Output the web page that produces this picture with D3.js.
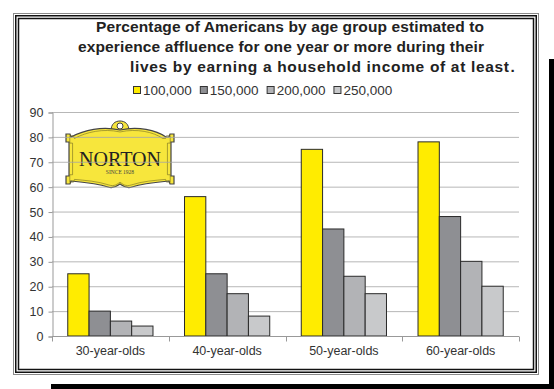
<!DOCTYPE html>
<html>
<head>
<meta charset="utf-8">
<script src="https://cdn.jsdelivr.net/npm/d3@7"></script>
<style>
  html, body { margin: 0; padding: 0; background: #fff; }
  svg { display: block; font-family: "Liberation Sans", Arial, sans-serif; }
</style>
</head>
<body>
<svg id="chart" width="554" height="389"></svg>
<script>
// Age groups along the x axis
const categories = ["30-year-olds", "40-year-olds", "50-year-olds", "60-year-olds"];
// Income thresholds (legend series)
const series = ["100,000", "150,000", "200,000", "250,000"];
// Percentage per age group, one array per threshold
const v100k = [25, 56, 75, 78];
const v150k = [10, 25, 43, 48];
const v200k = [6, 17, 24, 30];
const v250k = [4, 8, 17, 20];
// Y axis ticks
const yTicks = [0, 10, 20, 30, 40, 50, 60, 70, 80, 90];
const titleLines = [
  "Percentage of Americans by age group estimated to",
  "experience affluence for one year or more during their",
  "lives by earning a household income of at least"
];

const colors = ["#FFEC00", "#8E8F93", "#B2B3B6", "#C8C9CB"];
const valuesBySeries = [v100k, v150k, v200k, v250k];

const svg = d3.select("#chart");
const W = 554, H = 389;
const textCol = "#333";
const sans = "'Liberation Sans', Arial, sans-serif";
const serif = "'Liberation Serif', 'DejaVu Serif', serif";

svg.append("rect").attr("width", W).attr("height", H).attr("fill", "#fff");

// drop shadow bars
svg.append("rect").attr("x", 549).attr("y", 59).attr("width", 5).attr("height", 330).attr("fill", "#000");
svg.append("rect").attr("x", 51).attr("y", 384).attr("width", 503).attr("height", 5).attr("fill", "#000");

// triple frame
svg.append("rect").attr("x", 13.5).attr("y", 13.5).attr("width", 525).attr("height", 361)
  .attr("fill", "none").attr("stroke", "#8a8a8a").attr("stroke-width", 1);
svg.append("rect").attr("x", 15.75).attr("y", 15.75).attr("width", 520.5).attr("height", 356.5)
  .attr("fill", "none").attr("stroke", "#111").attr("stroke-width", 1.5);
svg.append("rect").attr("x", 18.5).attr("y", 18.5).attr("width", 515).attr("height", 351)
  .attr("fill", "none").attr("stroke", "#111").attr("stroke-width", 1.5);

// Title, each line stretched to its column width
const title = svg.append("g").attr("font-weight", "bold").attr("font-size", 15.5).attr("fill", "#222")
  .style("font-family", sans);
const titleX0 = [96, 78, 130];
const titleX1 = [484, 484, 509];
const titleY = [32, 52, 72];
titleLines.forEach((t, i) => {
  title.append("text").attr("x", titleX0[i]).attr("y", titleY[i])
    .attr("textLength", titleX1[i] - titleX0[i]).attr("lengthAdjust", "spacing").text(t);
});
title.append("text").attr("x", 510.5).attr("y", titleY[2]).text(".");

// Scales
const x0 = d3.scaleBand().domain(categories).range([52, 519]).padding(0);
const x1 = d3.scaleBand().domain(series).range([0, x0.bandwidth()]).paddingInner(0).paddingOuter(0.74);
const y = d3.scaleLinear().domain([0, 90]).range([336, 112]);

// Logo (drawn under the grid)
const cx = 120;
const logoPath = `M${cx},130
C${cx+18},126 ${cx+36},130 ${cx+46},137
L${cx+49},137 L${cx+50},134 L${cx+54},134 L${cx+54},142 L${cx+51},142
L${cx+51},176
L${cx+54},176 L${cx+54},184 L${cx+50},184 L${cx+49},181
C${cx+38},182 ${cx+24},183 ${cx+12},187
C${cx+6},189 ${cx+3},186 ${cx},184
C${cx-3},186 ${cx-6},189 ${cx-12},187
C${cx-24},183 ${cx-38},182 ${cx-49},181
L${cx-50},184 L${cx-54},184 L${cx-54},176 L${cx-51},176
L${cx-51},142
L${cx-54},142 L${cx-54},134 L${cx-50},134 L${cx-49},137
C${cx-36},130 ${cx-18},126 ${cx},130 Z`;
const logo = svg.append("g");
logo.append("path")
  .attr("d", `M${cx-9},131 C${cx-9},124 ${cx-5},121 ${cx},121 C${cx+5},121 ${cx+9},124 ${cx+9},131 Z`)
  .attr("fill", "#F7E63C").attr("stroke", "#444").attr("stroke-width", 1);
logo.append("circle").attr("cx", cx).attr("cy", 126).attr("r", 3)
  .attr("fill", "#fff").attr("stroke", "#444").attr("stroke-width", 1);
logo.append("path").attr("d", logoPath)
  .attr("fill", "#F7E63C").attr("stroke", "#444").attr("stroke-width", 1.2);
logo.append("path").attr("d", logoPath)
  .attr("transform", `translate(${cx},158) scale(0.93) translate(${-cx},-158)`)
  .attr("fill", "none").attr("stroke", "#6b6320").attr("stroke-width", 0.6);
logo.append("text").attr("x", cx).attr("y", 166).attr("text-anchor", "middle")
  .style("font-family", serif).attr("font-size", 20)
  .attr("textLength", 82).attr("lengthAdjust", "spacingAndGlyphs")
  .attr("fill", "#222").text("NORTON");
logo.append("text").attr("x", cx).attr("y", 173.5).attr("text-anchor", "middle")
  .style("font-family", serif).attr("font-size", 5.5)
  .attr("fill", "#444").text("SINCE 1928");

// Gridlines
svg.append("g").selectAll("line").data(yTicks.filter(d => d > 0)).join("line")
  .attr("x1", 52).attr("x2", 519)
  .attr("y1", d => y(d) + 0.5).attr("y2", d => y(d) + 0.5)
  .attr("stroke", "#a5a5a5").attr("stroke-opacity", 0.8).attr("stroke-width", 1);

// Bars
const groups = svg.append("g").selectAll("g").data(categories).join("g")
  .attr("transform", d => `translate(${x0(d)},0)`);
groups.selectAll("rect")
  .data((c, ci) => series.map((s, si) => ({ s, si, v: valuesBySeries[si][ci] })))
  .join("rect")
  .attr("x", d => x1(d.s))
  .attr("y", d => y(d.v))
  .attr("width", x1.bandwidth())
  .attr("height", d => y(0) - y(d.v))
  .attr("fill", d => colors[d.si])
  .attr("stroke", "#2a2a2a").attr("stroke-width", 1);

// Y axis
const yAxis = svg.append("g").attr("transform", "translate(52.5,0.5)")
  .call(d3.axisLeft(y).tickValues(yTicks).tickSize(4).tickPadding(5));
yAxis.attr("font-family", null);
yAxis.select(".domain").attr("stroke", "#999");
yAxis.selectAll(".tick line").attr("stroke", "#999");
yAxis.selectAll(".tick text").attr("font-size", 12.5).attr("fill", textCol)
  .style("font-family", sans);

// X axis: ticks at category boundaries
const xAxis = svg.append("g").attr("transform", "translate(0,336.5)");
xAxis.append("line").attr("x1", 52).attr("x2", 519).attr("stroke", "#999");
const bounds = categories.map(c => x0(c)).concat([x0.range()[1]]);
xAxis.selectAll("line.tk").data(bounds).join("line").attr("class", "tk")
  .attr("x1", d => Math.round(d) + 0.5).attr("x2", d => Math.round(d) + 0.5)
  .attr("y1", 0).attr("y2", 5).attr("stroke", "#999");
xAxis.selectAll("text").data(categories).join("text")
  .attr("x", d => x0(d) + x0.bandwidth() / 2).attr("y", 18.5)
  .attr("text-anchor", "middle").attr("font-size", 12.5).attr("fill", textCol)
  .style("font-family", sans)
  .text(d => d);

// Legend
const legend = svg.append("g").attr("font-size", 13.5).attr("fill", textCol).style("font-family", sans);
let lx = 133;
series.forEach((s, i) => {
  legend.append("rect").attr("x", lx + 0.5).attr("y", 86.5).attr("width", 7).attr("height", 7)
    .attr("fill", colors[i]).attr("stroke", "#333").attr("stroke-width", 1);
  const t = legend.append("text").attr("x", lx + 10).attr("y", 94.5).text(s);
  lx += 10 + t.node().getComputedTextLength() + 8;
});
</script>
</body>
</html>
